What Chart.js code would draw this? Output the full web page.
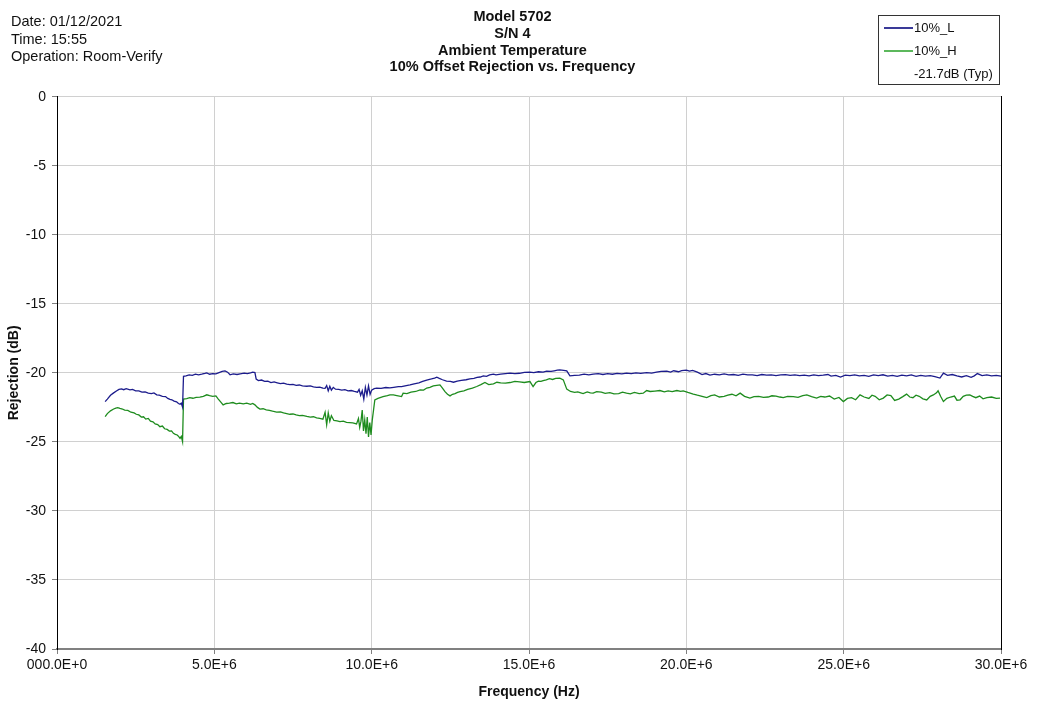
<!DOCTYPE html>
<html>
<head>
<meta charset="utf-8">
<script src="https://cdn.jsdelivr.net/npm/chart.js@4/dist/chart.umd.min.js"></script>
<style>
  html, body { margin: 0; padding: 0; background: #fff; }
  #wrap { position: relative; width: 1038px; height: 704px; font-family: "Liberation Sans", Arial, sans-serif; }
  #info { position: absolute; left: 11px; top: 13px; font-size: 14.5px; line-height: 17.5px; color: #111; }
  #legend { position: absolute; left: 878px; top: 15px; width: 120px; height: 68px; border: 1px solid #333; font-size: 13px; color: #111; }
  .row { position: absolute; left: 0; height: 16px; line-height: 16px; }
  .sw { position: absolute; left: 5px; top: 7px; width: 29px; height: 2px; }
  .lbl { position: absolute; left: 35px; top: 0; white-space: nowrap; }
</style>
</head>
<body>
<div id="wrap">
  <canvas id="c" width="1038" height="704"></canvas>
  <div id="info">Date: 01/12/2021<br>Time: 15:55<br>Operation: Room-Verify</div>
  <div id="legend">
    <div class="row" style="top:4px"><div class="sw" style="background:#3a3a98"></div><div class="lbl">10%_L</div></div>
    <div class="row" style="top:27px"><div class="sw" style="background:#5cb85c"></div><div class="lbl">10%_H</div></div>
    <div class="row" style="top:50px"><div class="lbl">-21.7dB (Typ)</div></div>
  </div>
</div>
<script>
const titleLines = ["Model 5702", "S/N 4", "Ambient Temperature", "10% Offset Rejection vs. Frequency"];
const xAxisTitle = "Frequency (Hz)";
const yAxisTitle = "Rejection (dB)";
const xTickValues = [0, 5e6, 10e6, 15e6, 20e6, 25e6, 30e6];
const yTickValues = [0, -5, -10, -15, -20, -25, -30, -35, -40];

// 10%_L  (frequency in MHz, rejection in dB)
const freqL = [
  1.53, 1.6, 1.7, 1.8, 1.9, 1.97, 2.05, 2.12, 2.2, 2.32,
  2.4, 2.5, 2.6, 2.7, 2.8, 2.9, 3.0, 3.08, 3.17, 3.25,
  3.35, 3.45, 3.52, 3.59, 3.65, 3.72, 3.8, 3.86, 3.91, 3.95,
  3.99, 4.02, 4.1, 4.2, 4.3, 4.4, 4.5, 4.6, 4.7, 4.76,
  4.85, 4.95, 5.05, 5.15, 5.25, 5.34, 5.42, 5.5, 5.6, 5.72,
  5.82, 5.95, 6.05, 6.15, 6.22, 6.29, 6.33, 6.4, 6.5, 6.6,
  6.7, 6.8, 6.9, 7.0, 7.1, 7.2, 7.3, 7.4, 7.5, 7.6,
  7.7, 7.8, 7.94, 8.05, 8.15, 8.25, 8.35, 8.45, 8.52, 8.57,
  8.62, 8.67, 8.72, 8.78, 8.85, 8.95, 9.05, 9.15, 9.25, 9.35,
  9.45, 9.55, 9.6, 9.65, 9.7, 9.75, 9.8, 9.85, 9.9, 9.95,
  10.0, 10.08, 10.16, 10.3, 10.45, 10.58, 10.7, 10.85, 10.95, 11.1,
  11.22, 11.35, 11.5, 11.62, 11.75, 11.9, 12.0, 12.07, 12.15, 12.25,
  12.38, 12.5, 12.6, 12.72, 12.85, 13.0, 13.12, 13.25, 13.35, 13.45,
  13.55, 13.65, 13.75, 13.87, 13.95, 14.1, 14.25, 14.4, 14.55, 14.7,
  14.85, 15.03, 15.15, 15.3, 15.45, 15.56, 15.7, 15.8, 15.9, 15.98,
  16.1, 16.2, 16.3, 16.45, 16.6, 16.75, 16.9, 17.04, 17.2, 17.35,
  17.5, 17.65, 17.8, 17.95, 18.1, 18.25, 18.4, 18.55, 18.74, 18.9,
  19.05, 19.2, 19.38, 19.5, 19.6, 19.75, 19.85, 20.0, 20.1, 20.2,
  20.35, 20.5, 20.62, 20.75, 20.9, 21.05, 21.2, 21.35, 21.5, 21.65,
  21.8, 21.95, 22.1, 22.25, 22.4, 22.55, 22.7, 22.85, 23.0, 23.15,
  23.3, 23.45, 23.6, 23.75, 23.9, 24.05, 24.2, 24.35, 24.5, 24.6,
  24.75, 24.9, 25.05, 25.2, 25.35, 25.5, 25.65, 25.8, 25.95, 26.1,
  26.25, 26.4, 26.55, 26.7, 26.85, 27.0, 27.15, 27.3, 27.45, 27.6,
  27.75, 27.9, 28.06, 28.17, 28.3, 28.45, 28.6, 28.75, 28.9, 29.05,
  29.15, 29.25, 29.4, 29.55, 29.7, 29.85, 30.0
];
const rejL = [
  -22.08, -21.9, -21.62, -21.45, -21.3, -21.2, -21.16, -21.22, -21.14, -21.23,
  -21.2, -21.3, -21.3, -21.4, -21.38, -21.47, -21.5, -21.45, -21.59, -21.62,
  -21.7, -21.72, -21.85, -21.92, -21.95, -22.05, -22.1, -22.22, -22.28, -22.2,
  -22.48, -20.25, -20.22, -20.15, -20.18, -20.1, -20.14, -20.1, -20.04, -20.0,
  -20.1, -20.05, -20.07, -19.98, -19.9, -19.86, -19.95, -20.14, -20.08, -20.12,
  -20.07, -20.02, -20.06, -20.0, -19.95, -19.98, -20.45, -20.56, -20.52, -20.62,
  -20.6, -20.7, -20.66, -20.72, -20.78, -20.75, -20.82, -20.85, -20.83, -20.9,
  -20.88, -20.95, -20.97, -20.95, -21.02, -21.05, -21.03, -21.1, -21.12, -20.92,
  -21.3, -20.98, -21.25, -21.05, -21.18, -21.2, -21.25, -21.22, -21.3, -21.28,
  -21.35, -21.4, -21.2, -21.62, -21.3, -21.9, -21.05, -21.6, -20.95, -21.55,
  -21.25, -21.15, -21.11, -21.12, -21.06, -21.09, -21.05, -21.0, -21.0, -20.92,
  -20.87, -20.8, -20.72, -20.62, -20.52, -20.44, -20.38, -20.31, -20.4, -20.5,
  -20.6, -20.62, -20.68, -20.6, -20.55, -20.5, -20.43, -20.4, -20.33, -20.3,
  -20.22, -20.25, -20.15, -20.1, -20.15, -20.1, -20.05, -20.02, -20.06, -20.03,
  -19.96, -19.95, -19.98, -19.92, -19.95, -19.88, -19.9, -19.85, -19.8, -19.78,
  -19.82, -19.86, -20.22, -20.18, -20.16, -20.1, -20.15, -20.1, -20.05, -20.12,
  -20.06, -20.1, -20.04, -20.08, -20.02, -20.06, -20.0, -20.04, -19.98, -20.02,
  -19.95, -19.9, -19.88, -19.95, -19.85, -19.92, -19.84, -19.8, -19.88, -19.82,
  -19.95, -20.12, -20.05, -20.16, -20.1, -20.14, -20.08, -20.15, -20.12, -20.18,
  -20.1, -20.15, -20.14, -20.2, -20.12, -20.16, -20.14, -20.2, -20.15, -20.13,
  -20.18, -20.14, -20.2, -20.16, -20.22, -20.15, -20.2, -20.17, -20.12, -20.24,
  -20.18, -20.3, -20.16, -20.2, -20.15, -20.22, -20.18, -20.25, -20.15, -20.2,
  -20.14, -20.24, -20.18, -20.26, -20.16, -20.22, -20.15, -20.25, -20.18, -20.24,
  -20.2, -20.28, -20.38, -20.02, -20.18, -20.12, -20.22, -20.3, -20.2, -20.32,
  -20.22, -20.05, -20.2, -20.15, -20.22, -20.18, -20.24
];

// 10%_H  (frequency in MHz, rejection in dB)
const freqH = [
  1.53, 1.6, 1.7, 1.8, 1.87, 1.93, 2.0, 2.08, 2.15, 2.25,
  2.35, 2.45, 2.52, 2.6, 2.68, 2.75, 2.82, 2.9, 2.97, 3.05,
  3.12, 3.2, 3.27, 3.35, 3.42, 3.5, 3.57, 3.64, 3.7, 3.76,
  3.82, 3.87, 3.91, 3.95, 3.99, 4.02, 4.12, 4.22, 4.32, 4.42,
  4.54, 4.65, 4.76, 4.85, 4.95, 5.05, 5.12, 5.2, 5.28, 5.38,
  5.48, 5.59, 5.7, 5.8, 5.92, 6.03, 6.15, 6.22, 6.29, 6.37,
  6.45, 6.55, 6.65, 6.75, 6.85, 6.98, 7.1, 7.2, 7.3, 7.4,
  7.5, 7.6, 7.7, 7.8, 7.94, 8.05, 8.15, 8.25, 8.35, 8.45,
  8.52, 8.57, 8.62, 8.67, 8.72, 8.8, 8.9, 8.99, 9.1, 9.2,
  9.3, 9.4, 9.52, 9.58, 9.62, 9.66, 9.7, 9.74, 9.78, 9.82,
  9.86, 9.9, 9.94, 9.98, 10.02, 10.1, 10.2, 10.36, 10.5, 10.58,
  10.69, 10.8, 10.95, 11.0, 11.12, 11.25, 11.4, 11.54, 11.65, 11.75,
  11.85, 11.96, 12.07, 12.17, 12.25, 12.33, 12.41, 12.49, 12.57, 12.65,
  12.73, 12.81, 12.93, 13.05, 13.2, 13.34, 13.47, 13.6, 13.72, 13.87,
  13.98, 14.1, 14.25, 14.4, 14.55, 14.7, 14.85, 15.03, 15.13, 15.22,
  15.3, 15.38, 15.45, 15.55, 15.65, 15.75, 15.85, 15.98, 16.09, 16.2,
  16.32, 16.45, 16.55, 16.62, 16.72, 16.85, 16.95, 17.04, 17.15, 17.3,
  17.42, 17.57, 17.7, 17.85, 17.97, 18.1, 18.22, 18.35, 18.5, 18.63,
  18.74, 18.85, 19.0, 19.16, 19.3, 19.42, 19.55, 19.7, 19.82, 19.9,
  20.05, 20.22, 20.35, 20.5, 20.65, 20.78, 20.9, 21.05, 21.2, 21.32,
  21.45, 21.58, 21.71, 21.85, 22.02, 22.15, 22.3, 22.45, 22.6, 22.72,
  22.85, 22.97, 23.08, 23.22, 23.4, 23.55, 23.7, 23.83, 23.98, 24.14,
  24.27, 24.4, 24.55, 24.7, 24.85, 24.99, 25.12, 25.25, 25.38, 25.52,
  25.65, 25.8, 25.9, 26.0, 26.13, 26.26, 26.38, 26.5, 26.62, 26.75,
  26.88, 27.0, 27.1, 27.2, 27.3, 27.4, 27.52, 27.64, 27.75, 27.85,
  27.95, 28.0, 28.08, 28.17, 28.28, 28.4, 28.52, 28.6, 28.7, 28.8,
  28.9, 29.01, 29.1, 29.2, 29.32, 29.43, 29.55, 29.7, 29.85, 29.97
];
const rejH = [
  -23.17, -22.95, -22.75, -22.62, -22.55, -22.52, -22.58, -22.62, -22.7, -22.72,
  -22.85, -22.9, -23.0, -23.05, -23.2, -23.18, -23.35, -23.3, -23.5, -23.55,
  -23.7, -23.75, -23.9, -23.85, -24.05, -24.1, -24.22, -24.2, -24.38, -24.45,
  -24.5, -24.62, -24.75, -24.6, -24.98, -21.9, -21.86, -21.8, -21.84, -21.78,
  -21.76, -21.7, -21.59, -21.65, -21.7, -21.67, -21.88, -22.1, -22.32, -22.22,
  -22.2, -22.15, -22.25, -22.2, -22.25, -22.2, -22.28, -22.22, -22.32, -22.5,
  -22.62, -22.6, -22.68, -22.72, -22.78, -22.84, -22.82, -22.9, -22.95, -23.0,
  -22.98, -23.05, -23.1, -23.08, -23.16, -23.2, -23.18, -23.26, -23.3, -23.36,
  -22.85, -23.75, -22.9, -23.5, -23.1, -23.45, -23.48, -23.53, -23.5, -23.58,
  -23.6, -23.62, -23.7, -23.3, -23.95, -23.5, -22.7, -24.2, -23.4, -24.4,
  -23.2, -24.64, -23.6, -24.5, -23.4, -21.96, -21.85, -21.72, -21.65, -21.59,
  -21.6, -21.65, -21.72, -21.47, -21.5, -21.4, -21.35, -21.23, -21.25, -21.1,
  -21.05, -20.94, -20.9, -20.87, -21.1, -21.36, -21.55, -21.67, -21.55, -21.5,
  -21.42, -21.36, -21.3, -21.2, -21.1, -20.99, -20.85, -20.7, -20.85, -20.8,
  -20.68, -20.72, -20.75, -20.7, -20.62, -20.65, -20.7, -20.63, -20.99, -20.7,
  -20.6, -20.62, -20.56, -20.5, -20.42, -20.48, -20.4, -20.38, -20.51, -21.18,
  -21.35, -21.42, -21.38, -21.43, -21.5, -21.38, -21.45, -21.47, -21.36, -21.4,
  -21.48, -21.43, -21.52, -21.5, -21.4, -21.47, -21.52, -21.42, -21.5, -21.47,
  -21.28, -21.35, -21.32, -21.28, -21.38, -21.3, -21.36, -21.28, -21.34, -21.3,
  -21.42, -21.54, -21.62, -21.7, -21.79, -21.65, -21.6, -21.75, -21.7, -21.62,
  -21.55, -21.66, -21.47, -21.7, -21.83, -21.72, -21.7, -21.78, -21.75, -21.66,
  -21.68, -21.75, -21.79, -21.7, -21.72, -21.78, -21.65, -21.59, -21.72, -21.83,
  -21.7, -21.75, -21.68, -21.9, -21.78, -22.08, -21.85, -21.8, -21.95, -21.59,
  -21.75, -21.85, -21.62, -21.7, -21.95, -21.83, -21.6, -21.65, -22.0, -21.9,
  -21.72, -21.54, -21.75, -21.8, -21.62, -21.7, -21.88, -21.96, -21.7, -21.6,
  -21.45, -21.3, -21.7, -22.08, -21.85, -21.75, -21.68, -21.98, -21.95, -21.7,
  -21.62, -21.59, -21.7, -21.8, -21.68, -21.88, -21.8, -21.75, -21.85, -21.83
];

const toPoints = (fs, vs) => fs.map((f, i) => ({ x: f * 1e6, y: vs[i] }));
const FONT = "'Liberation Sans', Arial, sans-serif";

new Chart(document.getElementById('c'), {
  type: 'line',
  data: {
    datasets: [
      { label: '10%_L', data: toPoints(freqL, rejL), borderColor: '#1c1c8c', borderWidth: 1.3, pointRadius: 0, tension: 0, yAxisID: 'y' },
      { label: '10%_H', data: toPoints(freqH, rejH), borderColor: '#1e8c1e', borderWidth: 1.3, pointRadius: 0, tension: 0, yAxisID: 'y' }
    ]
  },
  options: {
    responsive: false,
    animation: false,
    layout: { padding: { left: 0, right: 13, top: 0, bottom: 0 } },
    plugins: {
      legend: { display: false },
      tooltip: { enabled: false },
      title: {
        display: true,
        text: titleLines,
        color: '#111',
        font: { family: FONT, size: 14.5, weight: 'bold', lineHeight: 1.15 },
        padding: { top: 9, bottom: 21 }
      }
    },
    scales: {
      x: {
        type: 'linear',
        min: 0, max: 30e6,
        afterFit: s => { s.height = 55; },
        afterBuildTicks: s => { s.ticks = xTickValues.map(v => ({ value: v })); },
        ticks: {
          color: '#111', font: { family: FONT, size: 14 }, padding: 3, maxRotation: 0,
          callback: v => v === 0 ? '000.0E+0' : (v / 1e6).toFixed(1) + 'E+6'
        },
        grid: { color: '#d0d0d0', lineWidth: 1, tickLength: 5, tickColor: '#808080' },
        border: { color: '#808080', width: 2 },
        title: { display: true, text: xAxisTitle, color: '#111', font: { family: FONT, size: 14, weight: 'bold', lineHeight: 1.2 }, padding: { top: 0, bottom: 3 } }
      },
      y: {
        type: 'linear',
        min: -40, max: 0,
        afterFit: s => { s.width = 57; },
        afterBuildTicks: s => { s.ticks = yTickValues.map(v => ({ value: v })); },
        ticks: { color: '#111', font: { family: FONT, size: 14 }, padding: 6 },
        grid: { color: '#d0d0d0', lineWidth: 1, tickLength: 5, tickColor: '#808080' },
        border: { color: '#000', width: 1 },
        title: { display: true, text: yAxisTitle, color: '#111', font: { family: FONT, size: 14, weight: 'bold', lineHeight: 1.2 }, padding: { top: 6, bottom: 0 } }
      },
      y2: {
        type: 'linear',
        position: 'right',
        min: -40, max: 0,
        afterFit: s => { s.width = 24; },
        ticks: { display: false },
        grid: { drawOnChartArea: false, drawTicks: false },
        border: { color: '#000', width: 1 }
      }
    }
  }
});
</script>
</body>
</html>
